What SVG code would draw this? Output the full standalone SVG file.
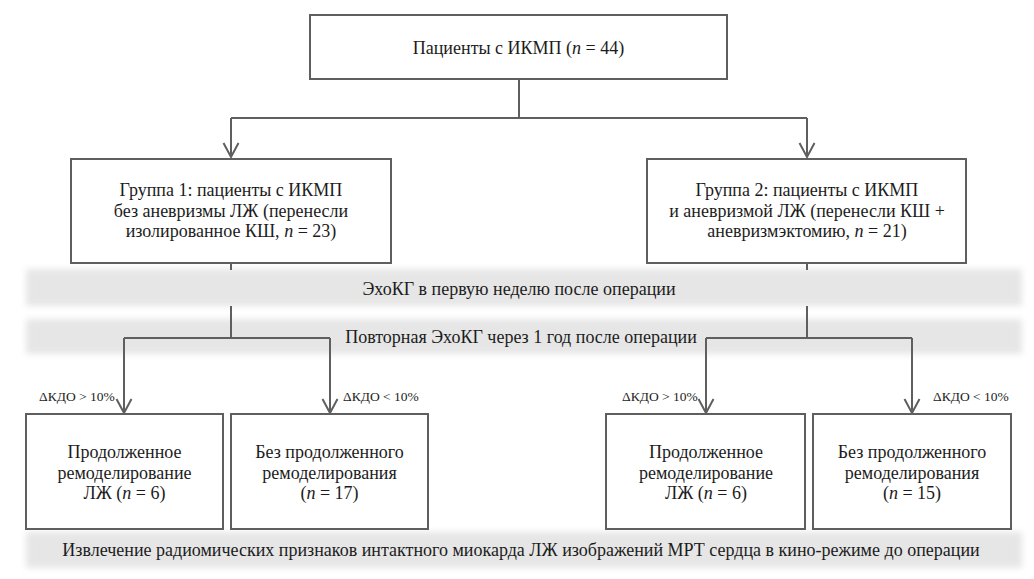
<svg xmlns="http://www.w3.org/2000/svg" width="1034" height="579" viewBox="0 0 1034 579">
<style>
.box{fill:#fff;stroke:#5f5f5f;stroke-width:2}
.ln{fill:none;stroke:#5f5f5f;stroke-width:2}
.t{font-family:"Liberation Serif","Times New Roman",serif;font-size:18px;fill:#1c1c1c;text-anchor:middle}
.s{font-family:"Liberation Serif","Times New Roman",serif;font-size:13.5px;fill:#1c1c1c}
.band{fill:#e6e6e6}
</style>
<defs>
<filter id="soft" x="-5%" y="-50%" width="110%" height="200%"><feGaussianBlur stdDeviation="3"/></filter>
<marker id="arr" markerUnits="userSpaceOnUse" markerWidth="18" markerHeight="18" viewBox="0 0 18 18" refX="16" refY="9" orient="auto">
<path d="M2,1.5 L16,9 L2,16.5" fill="none" stroke="#5f5f5f" stroke-width="2"/>
</marker>
</defs>
<rect width="1034" height="579" fill="#fff"/>

<g id="bands">
<rect class="band" x="26" y="269" width="996" height="37" filter="url(#soft)"/>
<rect class="band" x="26" y="319" width="996" height="35" filter="url(#soft)"/>
<rect class="band" x="26" y="532" width="996" height="36" filter="url(#soft)"/>
</g>

<g id="connectors">
<path class="ln" d="M519 79 V118 M231 118 H807"/>
<path class="ln" d="M231 118 V157" marker-end="url(#arr)"/>
<path class="ln" d="M807 118 V157" marker-end="url(#arr)"/>
<path class="ln" d="M231 263 V270 M231 306 V338 M124 338 H330"/>
<path class="ln" d="M124 338 V413" marker-end="url(#arr)"/>
<path class="ln" d="M330 338 V413" marker-end="url(#arr)"/>
<path class="ln" d="M807 263 V270 M807 306 V338 M706 338 H912"/>
<path class="ln" d="M706 338 V413" marker-end="url(#arr)"/>
<path class="ln" d="M912 338 V413" marker-end="url(#arr)"/>
<text class="s" x="39" y="401">ΔКДО &gt; 10%</text>
<text class="s" x="343" y="401">ΔКДО &lt; 10%</text>
<text class="s" x="622" y="401">ΔКДО &gt; 10%</text>
<text class="s" x="933" y="401">ΔКДО &lt; 10%</text>
</g>

<g id="n-top">
<rect class="box" x="310" y="15" width="417" height="64"/>
<text class="t" x="518.5" y="54">Пациенты с ИКМП (<tspan font-style="italic">n</tspan> = 44)</text>
</g>

<g id="n-group1">
<rect class="box" x="71" y="159" width="320" height="104"/>
<text class="t" x="231" y="196">Группа 1: пациенты с ИКМП</text>
<text class="t" x="231" y="217">без аневризмы ЛЖ (перенесли</text>
<text class="t" x="231" y="237">изолированное КШ, <tspan font-style="italic">n</tspan> = 23)</text>
</g>

<g id="n-group2">
<rect class="box" x="647" y="159" width="319" height="104"/>
<text class="t" x="807" y="196">Группа 2: пациенты с ИКМП</text>
<text class="t" x="807" y="217">и аневризмой ЛЖ (перенесли КШ +</text>
<text class="t" x="807" y="237">аневризмэктомию, <tspan font-style="italic">n</tspan> = 21)</text>
</g>

<g id="n-echo1">
<text class="t" x="519" y="295">ЭхоКГ в первую неделю после операции</text>
</g>

<g id="n-echo2">
<text class="t" x="521" y="343">Повторная ЭхоКГ через 1 год после операции</text>
</g>

<g id="n-g1a">
<rect class="box" x="26" y="414" width="197" height="115"/>
<text class="t" x="124.5" y="458">Продолженное</text>
<text class="t" x="124.5" y="479">ремоделирование</text>
<text class="t" x="124.5" y="499">ЛЖ (<tspan font-style="italic">n</tspan> = 6)</text>
</g>

<g id="n-g1b">
<rect class="box" x="231" y="414" width="197" height="115"/>
<text class="t" x="329.5" y="458">Без продолженного</text>
<text class="t" x="329.5" y="479">ремоделирования</text>
<text class="t" x="329.5" y="499">(<tspan font-style="italic">n</tspan> = 17)</text>
</g>

<g id="n-g2a">
<rect class="box" x="606" y="414" width="199" height="115"/>
<text class="t" x="706" y="458">Продолженное</text>
<text class="t" x="706" y="479">ремоделирование</text>
<text class="t" x="706" y="499">ЛЖ (<tspan font-style="italic">n</tspan> = 6)</text>
</g>

<g id="n-g2b">
<rect class="box" x="813" y="414" width="198" height="115"/>
<text class="t" x="912" y="458">Без продолженного</text>
<text class="t" x="912" y="479">ремоделирования</text>
<text class="t" x="912" y="499">(<tspan font-style="italic">n</tspan> = 15)</text>
</g>

<g id="n-extract">
<text class="t" x="521" y="556">Извлечение радиомических признаков интактного миокарда ЛЖ изображений МРТ сердца в кино-режиме до операции</text>
</g>
</svg>
